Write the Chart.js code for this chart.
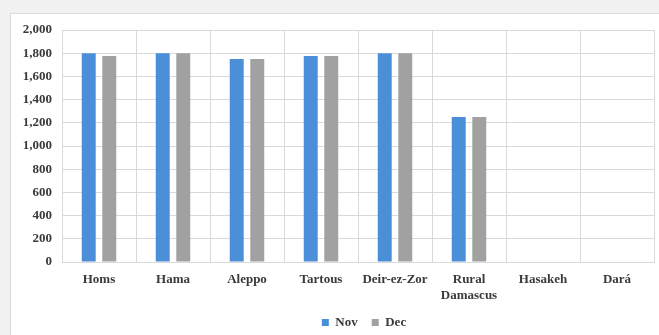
<!DOCTYPE html>
<html>
<head>
<meta charset="utf-8">
<script src="https://cdn.jsdelivr.net/npm/chart.js@4"></script>
<style>
  html, body { margin: 0; padding: 0; background: #f1f1f1; overflow: hidden; }
  #wrap { position: relative; width: 659px; height: 335px; }
  #panel { position: absolute; left: 10px; top: 13px; width: 660px; height: 330px;
           background: #ffffff; border: 1px solid #dadada; box-sizing: border-box; }
  #c { position: absolute; left: 0; top: 0; }
</style>
</head>
<body>
<div id="wrap">
  <div id="panel"></div>
  <canvas id="c" width="659" height="335"></canvas>
</div>
<script>
// Governorates shown along the x axis
const categories = ['Homs', 'Hama', 'Aleppo', 'Tartous', 'Deir-ez-Zor', ['Rural', 'Damascus'], 'Hasakeh', 'Dará'];
// Monthly values per governorate
const novValues = [1800, 1800, 1750, 1775, 1800, 1250, null, null];
const decValues = [1775, 1800, 1750, 1775, 1800, 1250, null, null];
// Value axis range and step
const yMin = 0;
const yMax = 2000;
const yStep = 200;

const FONT = { family: '"Liberation Serif", "Times New Roman", serif', size: 13, weight: 'bold' };
const TEXT = '#3a3a3a';
const GRID = '#d9d9d9';

// Center the legend under the white panel and lift it slightly
const legendShift = {
  id: 'legendShift',
  afterLayout(chart) {
    const lg = chart.legend;
    if (!lg) return;
    lg.left += 74;
    lg.top -= 8;
    lg.bottom -= 8;
  }
};

new Chart(document.getElementById('c'), {
  type: 'bar',
  data: {
    labels: categories,
    datasets: [
      { label: 'Nov', data: novValues, backgroundColor: '#4b8fd8',
        categoryPercentage: 0.555, barPercentage: 0.68 },
      { label: 'Dec', data: decValues, backgroundColor: '#a1a1a1',
        categoryPercentage: 0.555, barPercentage: 0.68 }
    ]
  },
  plugins: [legendShift],
  options: {
    responsive: false,
    animation: false,
    layout: { padding: { top: 30, right: 5, left: 0, bottom: -12 } },
    plugins: {
      tooltip: { enabled: false },
      legend: {
        position: 'bottom',
        labels: { font: FONT, color: TEXT, boxWidth: 7, boxHeight: 7, padding: 14 }
      }
    },
    scales: {
      x: {
        grid: { color: GRID, drawTicks: false, offset: true },
        border: { color: GRID },
        ticks: { font: FONT, color: TEXT, padding: 10, maxRotation: 0, autoSkip: false },
        afterFit: s => { s.height = 48; }
      },
      y: {
        min: yMin, max: yMax,
        grid: { color: GRID, drawTicks: false },
        border: { color: GRID },
        ticks: { font: FONT, color: TEXT, padding: 10, stepSize: yStep,
                 callback: v => v.toLocaleString('en-US') },
        afterFit: s => { s.width = 62; }
      }
    }
  }
});
</script>
</body>
</html>
